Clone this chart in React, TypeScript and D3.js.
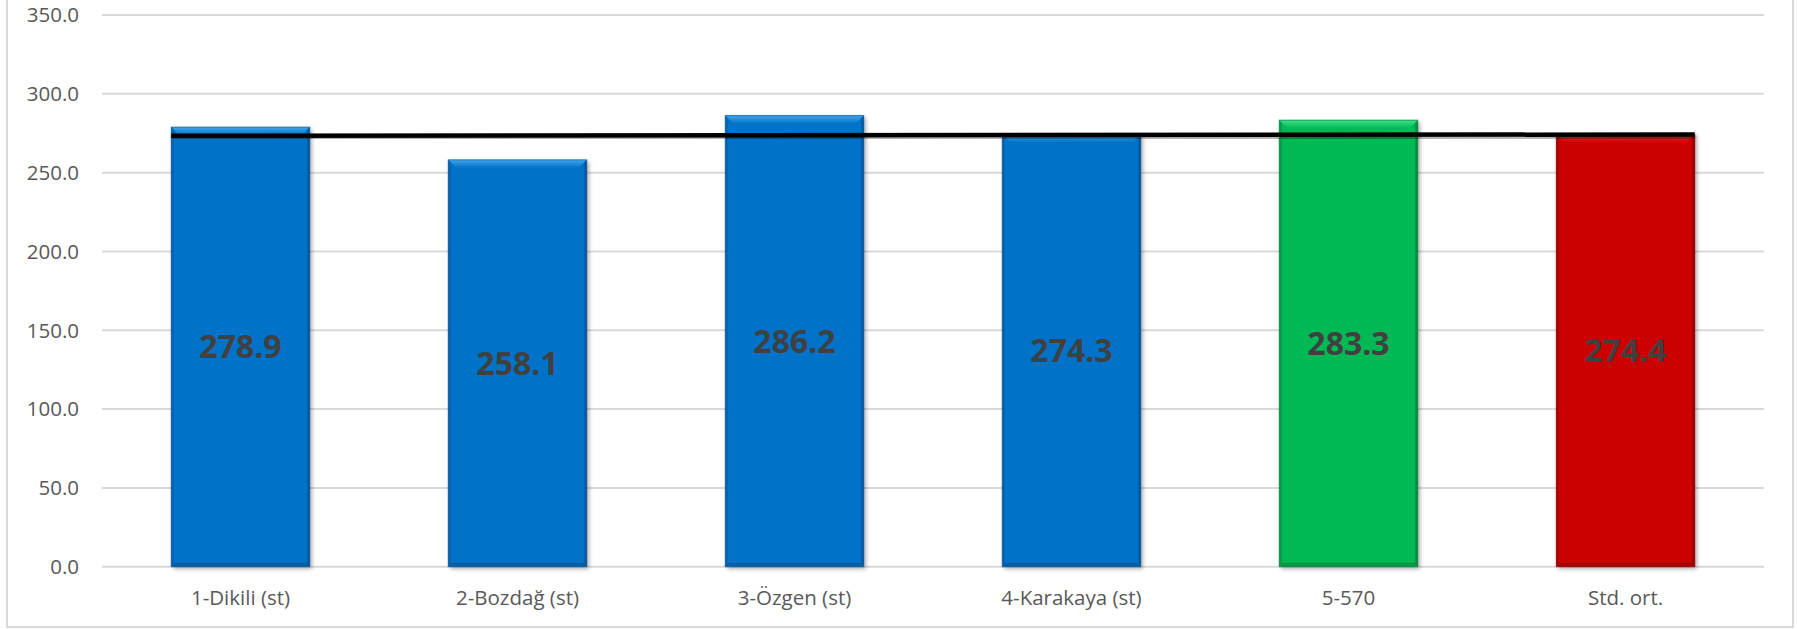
import React from "react";
import * as d3 from "d3";

const categories = ["1-Dikili (st)", "2-Bozdağ (st)", "3-Özgen (st)", "4-Karakaya (st)", "5-570", "Std. ort."];
const values = [278.9, 258.1, 286.2, 274.3, 283.3, 274.4];
const barKinds = ["std", "std", "std", "std", "test", "mean"];
const yTicks = [0, 50, 100, 150, 200, 250, 300, 350];
const meanLine = [273.4, 274.2];

const W = 1797;
const H = 629;
const plotLeft = 102;
const plotRight = 1764;
const yBottom = 566.7;
const yTop = 15;

const palette: Record<string, { main: string; light: string; dark: string }> = {
  std: { main: "#0673C8", light: "#3FA6EE", dark: "#0A4F8E" },
  test: { main: "#06B955", light: "#3EE08A", dark: "#0A7A3B" },
  mean: { main: "#CB0404", light: "#E23A3A", dark: "#860000" },
};

export default function App() {
  const x = d3.scaleBand<string>().domain(categories).range([plotLeft, plotRight]).paddingInner(0.5).paddingOuter(0.25);
  const y = d3.scaleLinear().domain([0, 350]).range([yBottom, yTop]);
  const bw = x.bandwidth();
  const b = 8;

  const lineData: [number, number][] = [
    [x(categories[0])!, y(meanLine[0])],
    [x(categories[categories.length - 1])! + bw, y(meanLine[1])],
  ];
  const linePath = d3.line()(lineData) || "";

  return (
    <svg width={W} height={H} style={{ position: "absolute", left: 0, top: 0, display: "block", background: "#fff" }}>
      <defs>
        <filter id="shadow" x="-10%" y="-10%" width="130%" height="130%">
          <feDropShadow dx="2" dy="2" stdDeviation="2" floodColor="#000" floodOpacity="0.35" />
        </filter>
        <filter id="lshadow" x="-5%" y="-200%" width="110%" height="500%">
          <feDropShadow dx="1" dy="3" stdDeviation="1.5" floodColor="#000" floodOpacity="0.35" />
        </filter>
        {Object.keys(palette).map((k) => (
          <linearGradient key={k} id={"top-" + k} x1="0" y1="0" x2="0" y2="1">
            <stop offset="0" stopColor={palette[k].light} />
            <stop offset="1" stopColor={palette[k].main} />
          </linearGradient>
        ))}
      </defs>
      <rect x={7} y={-3} width={1786} height={630} fill="#fff" stroke="#d9d9d9" strokeWidth={2} />
      {yTicks.map((t) => (
        <g key={t}>
          <line x1={plotLeft} x2={plotRight} y1={y(t)} y2={y(t)} stroke="#d9d9d9" strokeWidth={2} />
          <text x={79} y={y(t) + 7.3} textAnchor="end" fontFamily="'Open Sans', sans-serif" fontSize={20.5} fill="#595959">
            {t.toFixed(1)}
          </text>
        </g>
      ))}
      {categories.map((c, i) => {
        const x0 = x(c)!;
        const y0 = y(values[i]);
        const h = yBottom - y0;
        const p = palette[barKinds[i]];
        return (
          <g key={c}>
            <g filter="url(#shadow)">
              <rect x={x0} y={y0} width={bw} height={h} fill={p.main} />
            </g>
            <polygon points={`${x0},${y0} ${x0 + bw},${y0} ${x0 + bw - b},${y0 + b} ${x0 + b},${y0 + b}`} fill={`url(#top-${barKinds[i]})`} />
            <polygon points={`${x0},${y0} ${x0 + 2.5},${y0 + 2.5} ${x0 + 2.5},${yBottom - 3} ${x0},${yBottom}`} fill={p.dark} opacity={0.45} />
            <polygon points={`${x0 + bw},${y0} ${x0 + bw - 2.5},${y0 + 2.5} ${x0 + bw - 2.5},${yBottom - 3} ${x0 + bw},${yBottom}`} fill={p.dark} opacity={0.7} />
            <polygon points={`${x0},${yBottom} ${x0 + 3},${yBottom - 4} ${x0 + bw - 3},${yBottom - 4} ${x0 + bw},${yBottom}`} fill={p.dark} opacity={0.55} />
            <rect x={x0} y={y0} width={bw} height={h} fill="none" stroke={p.dark} strokeWidth={1} opacity={0.6} />
          </g>
        );
      })}
      <path d={linePath} stroke="#000" strokeWidth={4.5} fill="none" filter="url(#lshadow)" />
      {categories.map((c, i) => (
        <text
          key={"l" + c}
          x={x(c)! + bw / 2}
          y={y(values[i] / 2) + 11.5}
          textAnchor="middle"
          fontFamily="'Open Sans', sans-serif"
          fontWeight="bold"
          fontSize={32}
          fill="#404040"
        >
          {values[i].toFixed(1)}
        </text>
      ))}
      {categories.map((c) => (
        <text key={"c" + c} x={x(c)! + bw / 2} y={605} textAnchor="middle" fontFamily="'Open Sans', sans-serif" fontSize={20.5} fill="#595959">
          {c}
        </text>
      ))}
    </svg>
  );
}
